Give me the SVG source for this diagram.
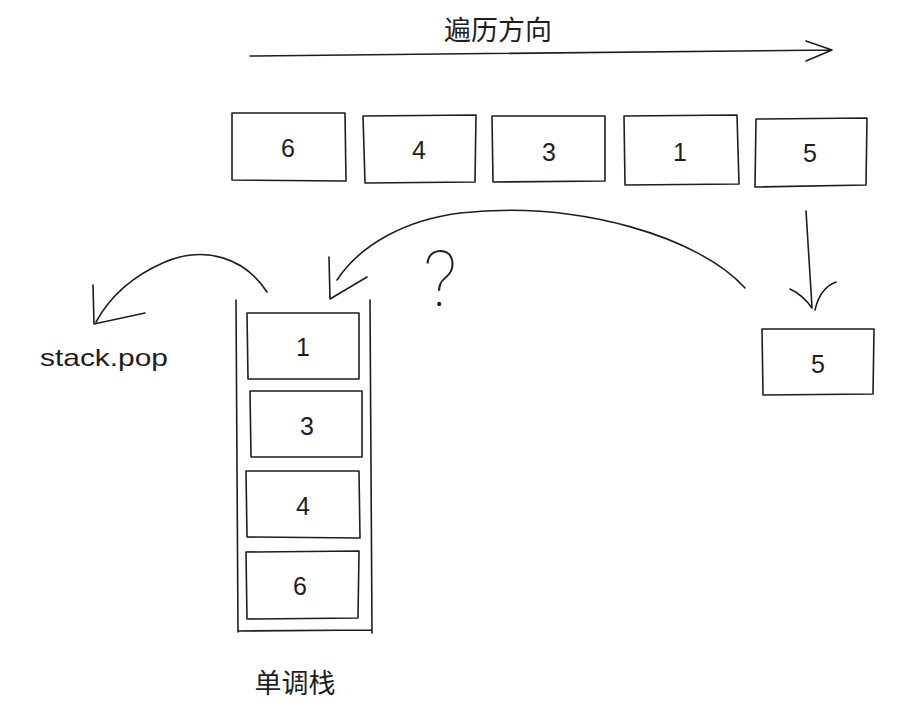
<svg xmlns="http://www.w3.org/2000/svg" width="908" height="706" viewBox="0 0 908 706">
<style>
.box{fill:#fff;stroke:#1e1e1e;stroke-width:1.6;stroke-linejoin:round}
.ln{fill:none;stroke:#1e1e1e;stroke-width:1.6;stroke-linecap:round;stroke-linejoin:round}
.num{font-family:"Liberation Sans",Arial,sans-serif;font-size:25px;fill:#1e1e1e;text-anchor:middle;dominant-baseline:central}
.cjk{font-family:"Noto Sans CJK SC","Noto Sans",sans-serif;font-size:27px;fill:#1e1e1e;text-anchor:middle}
.hand{font-family:"Liberation Sans",Arial,sans-serif;fill:#1e1e1e}
</style>
<rect width="908" height="706" fill="#fff"/>
<g id="title"><text class="cjk" x="498" y="40">遍历方向</text></g>
<g id="top6"><polygon class="box" points="232,113 345,113 346,181 232,180"/><text class="num" x="288" y="148">6</text></g>
<g id="top4"><polygon class="box" points="363,116 476,115 475,182 365,183"/><text class="num" x="419" y="150">4</text></g>
<g id="top3"><polygon class="box" points="492,116 605,116 605,181 493,182"/><text class="num" x="549" y="152">3</text></g>
<g id="top1"><polygon class="box" points="624,116 737,115 739,184 625,185"/><text class="num" x="680" y="152">1</text></g>
<g id="top5"><polygon class="box" points="756,119 867,118 866,185 755,187"/><text class="num" x="810" y="153">5</text></g>
<g id="incoming5"><polygon class="box" points="762,329 874,329 873,394 763,395"/><text class="num" x="818" y="364">5</text></g>
<g id="stack">
<path class="ln" d="M236,300 L238,632 M370,300 L372,633 M238,631 L372,630"/>
</g>
<g id="stack1"><polygon class="box" points="247,313 359,313 359,379 248,379"/><text class="num" x="303" y="347">1</text></g>
<g id="stack3"><polygon class="box" points="250,391 362,391 362,457 251,457"/><text class="num" x="307" y="426">3</text></g>
<g id="stack4"><polygon class="box" points="246,471 359,471 360,538 247,537"/><text class="num" x="303" y="506">4</text></g>
<g id="stack6"><polygon class="box" points="246,552 359,551 358,618 247,619"/><text class="num" x="300" y="586">6</text></g>
<g id="stacklabel"><text class="cjk" x="295" y="693">单调栈</text></g>
<g id="poplabel"><text class="hand" x="40" y="366" font-size="24" textLength="128" lengthAdjust="spacingAndGlyphs">stack.pop</text></g>
<g id="question"><text x="440" y="306" font-size="78" font-family="Roboto,sans-serif" font-weight="100" fill="#1e1e1e" text-anchor="middle">?</text></g>
<g id="connectors">
<path class="ln" d="M250,56 L832,50 M806,41 L832,50 L806,61"/>
<path class="ln" d="M806,211 L812,307 M790,289 Q803,295 812,308 M836,282 Q820,288 815,310"/>
<path class="ln" d="M745,288 C700,238 580,200 460,213 C405,220 360,245 337,280 M329,257 L330,299 L367,277"/>
<path class="ln" d="M267,292 C245,258 205,245 165,262 C130,277 108,300 96,322 M93,285 L94,324 L145,313"/>
</g>
</svg>
